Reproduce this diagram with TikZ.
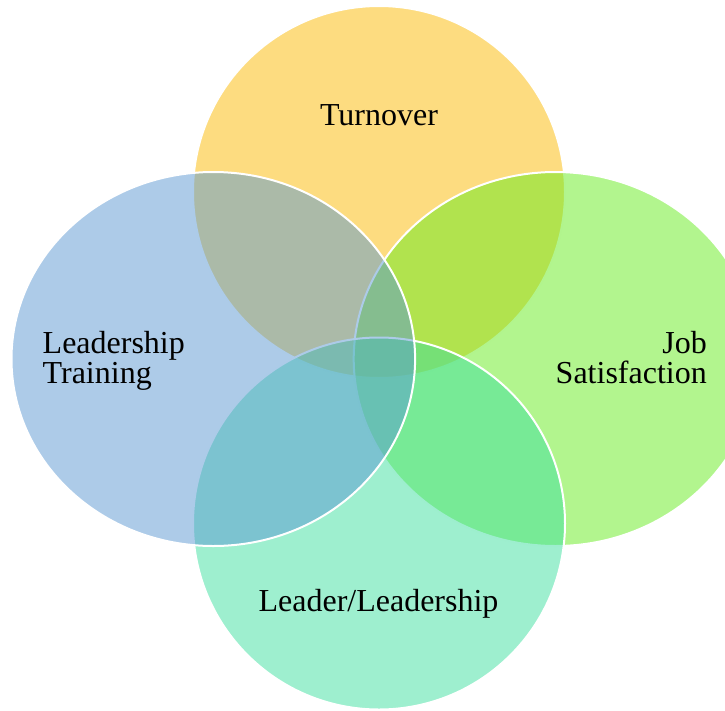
\documentclass[tikz,border=0pt]{standalone}
\usepackage{fontspec}
\setmainfont{Liberation Serif}
\definecolor{setgold}{RGB}{251,185,2}
\definecolor{setblue}{RGB}{91,152,210}
\definecolor{setgreen}{RGB}{101,235,29}
\definecolor{setteal}{RGB}{61,223,159}
\begin{document}
\begin{tikzpicture}[x=1pt,y=-1pt,
  setring/.style={draw=white,line width=2pt,fill opacity=0.5,draw opacity=1},
  label/.style={inner sep=0pt,font=\fontsize{32}{30}\selectfont}]
\useasboundingbox (0,0) rectangle (725,710);
\clip (0,0) rectangle (725,710);
% four overlapping sets, drawn back to front
\draw[setring,fill=setgold]  (379,192) ellipse [x radius=186,y radius=186];
\draw[setring,fill=setgreen] (555.5,359) ellipse [x radius=201.8,y radius=187];
\draw[setring,fill=setteal]  (379,523.5) ellipse [x radius=186,y radius=186];
\draw[setring,fill=setblue]  (213.3,359) ellipse [x radius=201.8,y radius=187];
% set labels (base anchor of a two-line label sits on its last line)
\node[label,anchor=base] (turnover) at (379,125) {Turnover};
\node[label,anchor=base west,align=left] (training) at (42.5,383) {Leadership\\Training};
\node[label,anchor=base east,align=right] (jobsat) at (707,383) {Job\\Satisfaction};
\node[label,anchor=base] (leader) at (378.5,611.5) {Leader/Leadership};
\end{tikzpicture}
\end{document}
